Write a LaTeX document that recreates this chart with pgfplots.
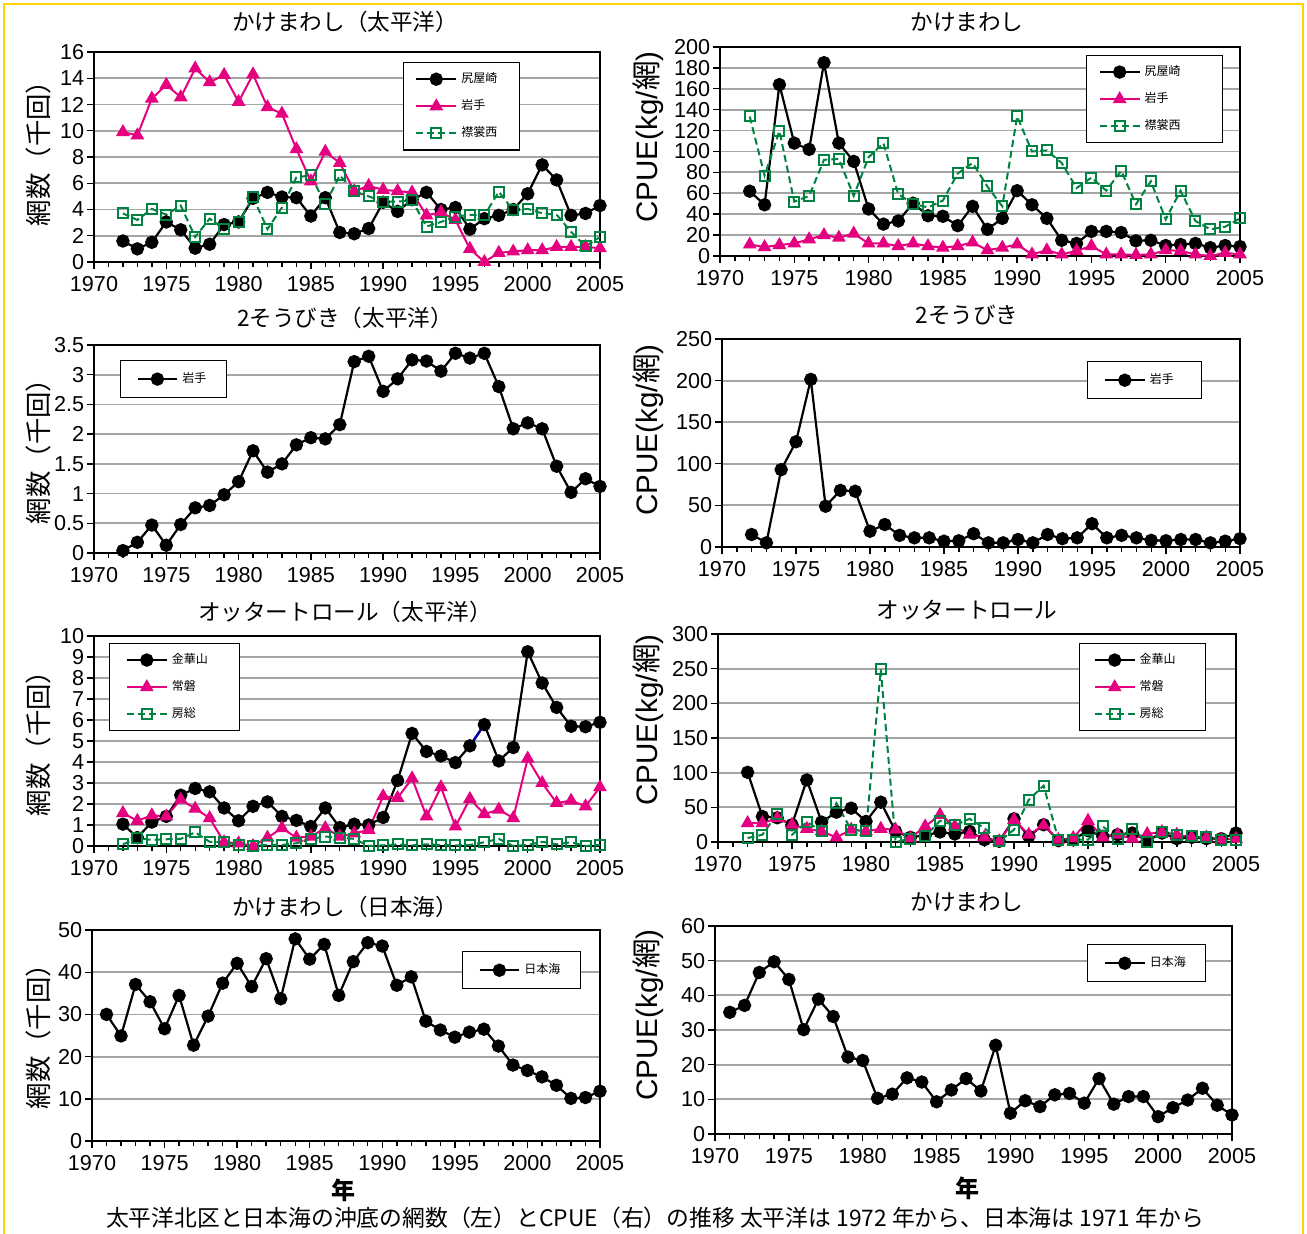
\documentclass[border=0pt]{standalone}
\usepackage{pgfplots}
\usepackage{pgfplotstable}
\pgfplotsset{compat=1.18}
\usepackage{fontspec}
\setmainfont{Liberation Sans}
\newfontfamily\jp{Noto Sans CJK JP}
\definecolor{pk}{RGB}{228,0,127}
\definecolor{gr}{RGB}{0,130,64}
\definecolor{gd}{RGB}{255,210,0}
\definecolor{gl}{RGB}{165,165,165}

\pgfplotstableread{
yr a b c
1972 1.6 9.9 3.7
1973 1.0 9.65 3.2
1974 1.5 12.45 4.05
1975 3.05 13.5 3.6
1976 2.45 12.55 4.3
1977 1.05 14.75 1.9
1978 1.35 13.7 3.3
1979 2.85 14.25 2.55
1980 3.05 12.2 3.05
1981 4.85 14.3 4.95
1982 5.3 11.8 2.5
1983 4.95 11.3 4.15
1984 4.9 8.6 6.45
1985 3.5 6.15 6.6
1986 4.9 8.4 4.4
1987 2.25 7.55 6.6
1988 2.15 5.4 5.4
1989 2.55 5.8 5.0
1990 4.55 5.5 4.6
1991 3.85 5.4 4.6
1992 4.75 5.3 4.7
1993 5.3 3.55 2.7
1994 4.0 3.8 3.05
1995 4.15 3.2 3.45
1996 2.5 1.0 3.6
1997 3.3 0.0 3.55
1998 3.55 0.7 5.35
1999 4.0 0.8 3.95
2000 5.2 0.9 4.05
2001 7.4 0.9 3.7
2002 6.25 1.15 3.6
2003 3.55 1.15 2.3
2004 3.7 1.15 1.2
2005 4.3 1.05 1.9
}\tA

\pgfplotstableread{
yr a b c
1972 62 11 133.5
1973 49 8.5 77
1974 164 10.5 119.5
1975 108 12 52
1976 102 16 57.5
1977 185 20 92
1978 108 17.5 93
1979 90.5 21.5 57.5
1980 45 12 94.5
1981 30.5 12 108
1982 33.5 9.5 59
1983 50.5 12 50
1984 38.5 9.5 46.5
1985 38 8 53
1986 29 9.5 79
1987 47.5 13 89
1988 25.5 5.5 66.5
1989 36 8 47.5
1990 62.5 11 133.5
1991 49 1.5 100
1992 36 5.5 101
1993 15 1.5 89
1994 12 5 65
1995 23.5 9.5 75
1996 23.5 1.5 62.5
1997 22.5 1.5 81.5
1998 14.5 1 49.5
1999 15 1.5 71.5
2000 10 5.5 35
2001 11 5 62.5
2002 12 1.5 33.5
2003 8 0 25.5
2004 10 3 28
2005 9 1.5 36
}\tB

\pgfplotstableread{
yr a b
1972 0.04 15
1973 0.18 5
1974 0.47 93
1975 0.13 126.5
1976 0.48 201.5
1977 0.76 49
1978 0.8 68
1979 0.98 67
1980 1.2 19
1981 1.72 27
1982 1.36 14
1983 1.5 11
1984 1.82 11
1985 1.94 7
1986 1.92 7.5
1987 2.16 16
1988 3.22 5
1989 3.31 5
1990 2.72 9
1991 2.93 5
1992 3.25 15
1993 3.23 10
1994 3.06 11
1995 3.36 28
1996 3.28 11
1997 3.36 14
1998 2.8 11
1999 2.09 8
2000 2.19 7.5
2001 2.09 9
2002 1.46 9
2003 1.02 5
2004 1.25 7
2005 1.12 10
}\tC

\pgfplotstableread{
yr a b c
1972 1.04 1.57 0.08
1973 0.4 1.2 0.37
1974 1.14 1.46 0.29
1975 1.41 1.41 0.32
1976 2.42 2.21 0.34
1977 2.74 1.78 0.65
1978 2.58 1.33 0.2
1979 1.81 0.18 0.18
1980 1.2 0.13 0.05
1981 1.89 0.0 0.0
1982 2.1 0.4 0.05
1983 1.41 0.85 0.05
1984 1.22 0.4 0.13
1985 0.93 0.45 0.34
1986 1.81 0.85 0.45
1987 0.88 0.45 0.4
1988 1.04 0.6 0.34
1989 1.0 0.77 0.0
1990 1.36 2.37 0.03
1991 3.12 2.29 0.08
1992 5.36 3.22 0.03
1993 4.5 1.41 0.08
1994 4.29 2.8 0.05
1995 3.97 0.93 0.03
1996 4.77 2.24 0.05
1997 5.78 1.52 0.18
1998 4.05 1.73 0.34
1999 4.69 1.33 0.0
2000 9.25 4.16 0.05
2001 7.76 3.0 0.2
2002 6.6 2.05 0.08
2003 5.7 2.16 0.18
2004 5.68 1.89 0.0
2005 5.89 2.8 0.05
}\tE

\pgfplotstableread{
yr a b c
1972 100.5 27.3 5.7
1973 36.8 27.3 10.5
1974 35 34.4 40.7
1975 24.9 24.9 10.5
1976 89.5 19.1 28.7
1977 28.7 15.3 16.3
1978 43 6.7 56
1979 48.8 17.7 17.7
1980 29.7 15.3 16.3
1981 57.4 19.1 248.8
1982 15.3 17.7 0
1983 6.7 5.7 4.8
1984 9.6 22.5 8.1
1985 14.4 39.2 30.6
1986 11.5 22.5 23.9
1987 15.3 10.5 33.5
1988 3.3 6.7 20.1
1989 1 1 1
1990 33.5 32 17.7
1991 8.1 10.5 60.8
1992 24.9 23.9 81.3
1993 1.9 3.3 3.3
1994 3.3 5.7 3.3
1995 16.3 30.6 3.3
1996 8.1 6.7 22.5
1997 10.5 10.5 4.8
1998 12.9 4.8 19.1
1999 1.9 11.5 0
2000 12.9 14.4 14.4
2001 4.8 10.5 10.5
2002 6.7 6.7 8.1
2003 4.8 6.7 6.7
2004 4.8 3.3 3.3
2005 12.9 4.8 3.3
}\tF

\pgfplotstableread{
yr a b
1971 30 35.1
1972 24.9 37.1
1973 37.1 46.6
1974 33 49.7
1975 26.6 44.6
1976 34.5 30.1
1977 22.7 38.9
1978 29.6 33.9
1979 37.4 22.2
1980 42.1 21.2
1981 36.6 10.3
1982 43.2 11.5
1983 33.7 16.2
1984 47.9 15
1985 43.1 9.3
1986 46.6 12.7
1987 34.5 16
1988 42.5 12.4
1989 47 25.6
1990 46.2 6
1991 36.9 9.6
1992 38.9 7.9
1993 28.4 11.3
1994 26.3 11.7
1995 24.6 8.9
1996 25.8 16
1997 26.5 8.6
1998 22.5 10.8
1999 18 10.8
2000 16.7 5
2001 15.2 7.6
2002 13.2 9.8
2003 10.1 13.2
2004 10.3 8.3
2005 11.8 5.5
}\tG

\pgfplotsset{
 panel/.style={
  scale only axis, anchor=south west, clip=false,
  xmin=1970, xmax=2005, ymin=0,
  xtick={1970,1975,...,2005}, minor x tick num=4,
  tick align=outside, xtick pos=bottom, ytick pos=left,
  ymajorgrids, grid style={gl, line width=0.9pt},
  axis line style={line width=1.1pt},
  tick style={black, line width=0.7pt},
  major tick length=3.5pt, minor tick length=2.5pt,
  ticklabel style={font=\fontsize{10.8}{11}\selectfont},
  /pgf/number format/assume math mode=true,
  /pgf/number format/1000 sep={},
  xticklabel style={inner sep=1.5pt, yshift=-2pt},
  yticklabel style={inner sep=1.2pt},
  legend cell align=left,
  legend style={draw=black, line width=0.6pt, fill=white, anchor=north west,
     font=\jp\fontsize{6}{7}\selectfont, row sep=3pt, inner xsep=6pt, inner ysep=3pt,
     /tikz/every even column/.append style={column sep=8pt}},
  legend image code/.code={\draw[mark repeat=2,mark phase=2,##1] plot coordinates {(0cm,0cm)(0.35cm,0cm)(0.7cm,0cm)};},
 },
 bk/.style={black, line width=1.1pt, mark=*, mark size=2.8pt, mark options={solid, fill=black}},
 pkk/.style={pk, line width=1pt, mark=triangle*, mark size=3pt, mark options={solid, fill=pk}},
 grr/.style={gr, line width=1pt, dash pattern=on 3.5pt off 2pt, mark=square, mark size=2.5pt, mark options={solid, fill=white, line width=1pt}},
}

\newcommand{\ttl}[1]{{\jp\fontsize{11.3}{12}\selectfont #1}}

\begin{document}
\begin{tikzpicture}
\useasboundingbox (0pt,0pt) rectangle (653.5pt,-617pt);
\fill[white] (0pt,0pt) rectangle (653.5pt,-617pt);
\draw[gd, line width=1pt] (2pt,-620pt) -- (2pt,-2pt) -- (651.5pt,-2pt) -- (651.5pt,-620pt);

% Panel 1
\begin{axis}[panel, at={(47pt,-131pt)}, width=253pt, height=105pt,
  ymax=16, ytick={0,2,...,16},
  legend style={at={(0.61,0.952)}}]
\addplot[bk] table[x=yr,y=a]{\tA};
\addplot[pkk] table[x=yr,y=b]{\tA};
\addplot[grr] table[x=yr,y=c]{\tA};
\legend{尻屋崎\hspace*{3pt},岩手,襟裳西}
\end{axis}

% Panel 2
\begin{axis}[panel, at={(360pt,-128pt)}, width=260pt, height=104.5pt,
  ymax=200, ytick={0,20,...,200},
  legend style={at={(0.704,0.962)}}]
\addplot[bk] table[x=yr,y=a]{\tB};
\addplot[pkk] table[x=yr,y=b]{\tB};
\addplot[grr] table[x=yr,y=c]{\tB};
\legend{尻屋崎\hspace*{13pt},岩手,襟裳西}
\end{axis}

% Panel 3
\begin{axis}[panel, at={(47pt,-276.5pt)}, width=253pt, height=104pt,
  ymax=3.5, ytick={0,0.5,...,3.5},
  legend style={at={(0.051,0.928)}, inner xsep=8pt, inner ysep=4pt, /tikz/every even column/.append style={column sep=14pt}}]
\addplot[bk] table[x=yr,y=a]{\tC};
\legend{岩手}
\end{axis}

% Panel 4
\begin{axis}[panel, at={(361pt,-273.5pt)}, width=259pt, height=104pt,
  ymax=250, ytick={0,50,...,250},
  legend style={at={(0.705,0.894)}, inner xsep=8pt, inner ysep=4pt, /tikz/every even column/.append style={column sep=14pt}}]
\addplot[bk] table[x=yr,y=b]{\tC};
\legend{岩手\hspace*{4pt}}
\end{axis}

% Panel 5
\begin{axis}[panel, at={(47pt,-423pt)}, width=253pt, height=105pt,
  ymax=10, ytick={0,1,...,10},
  legend style={at={(0.03,0.967)}, inner xsep=8pt, /tikz/every even column/.append style={column sep=14pt}}]
\addplot[bk] table[x=yr,y=a]{\tE};
\addplot[pkk] table[x=yr,y=b]{\tE};
\addplot[grr] table[x=yr,y=c]{\tE};
\addplot[blue!70!black, line width=1.1pt, forget plot] coordinates {(1996,4.77) (1997,5.78)};
\addplot[only marks, mark=*, mark size=2.8pt, black, forget plot] coordinates {(1996,4.77) (1997,5.78)};
\legend{金華山\hspace*{6pt},常磐,房総}
\end{axis}

% Panel 6
\begin{axis}[panel, at={(359pt,-421pt)}, width=259pt, height=104pt,
  ymax=300, ytick={0,50,...,300},
  legend style={at={(0.697,0.957)}, inner xsep=7pt, /tikz/every even column/.append style={column sep=11pt}}]
\addplot[bk] table[x=yr,y=a]{\tF};
\addplot[pkk] table[x=yr,y=b]{\tF};
\addplot[grr] table[x=yr,y=c]{\tF};
\legend{金華山\hspace*{6pt},常磐,房総}
\end{axis}

% Panel 7
\begin{axis}[panel, at={(46pt,-570.5pt)}, width=254pt, height=105.5pt,
  ymax=50, ytick={0,10,...,50},
  legend style={at={(0.728,0.9)}, inner xsep=8pt, inner ysep=4pt, /tikz/every even column/.append style={column sep=14pt}}]
\addplot[bk] table[x=yr,y=a]{\tG};
\legend{日本海}
\end{axis}

% Panel 8
\begin{axis}[panel, at={(357.5pt,-567pt)}, width=258.5pt, height=104pt,
  ymax=60, ytick={0,10,...,60},
  legend style={at={(0.72,0.913)}, inner xsep=8pt, inner ysep=4pt, /tikz/every even column/.append style={column sep=14pt}}]
\addplot[bk] table[x=yr,y=b]{\tG};
\legend{日本海}
\end{axis}

% titles
\node at (172.5pt,-11pt) {\ttl{かけまわし（太平洋）}};
\node at (483.5pt,-11pt) {\ttl{かけまわし}};
\node at (172.5pt,-159pt) {\ttl{2そうびき（太平洋）}};
\node at (483.5pt,-157.5pt) {\ttl{2そうびき}};
\node at (172.5pt,-306pt) {\ttl{オッタートロール（太平洋）}};
\node at (483.5pt,-305pt) {\ttl{オッタートロール}};
\node at (172.5pt,-453.5pt) {\ttl{かけまわし（日本海）}};
\node at (483.5pt,-451pt) {\ttl{かけまわし}};

% y labels
\foreach \yy in {-73.5,-222.5,-368.5,-515} {
  \node[rotate=90] at (19pt,\yy pt) {\jp\fontsize{13.2}{14}\selectfont 網数（千回）};
}
\foreach \yy in {-68.5,-215,-360,-507.5} {
  \node[rotate=90] at (324pt,\yy pt) {\fontsize{14.8}{15}\selectfont CPUE(kg/{\jp 網})};
}

% x labels
\node at (171.5pt,-595pt) {\jp\bfseries\fontsize{12}{13}\selectfont 年};
\node at (483.5pt,-594pt) {\jp\bfseries\fontsize{12}{13}\selectfont 年};

% caption
\node at (327.5pt,-609pt) {\jp\fontsize{11.4}{12}\selectfont 太平洋北区と日本海の沖底の網数（左）とCPUE（右）の推移\ 太平洋は 1972 年から、日本海は 1971 年から};
\end{tikzpicture}
\end{document}
